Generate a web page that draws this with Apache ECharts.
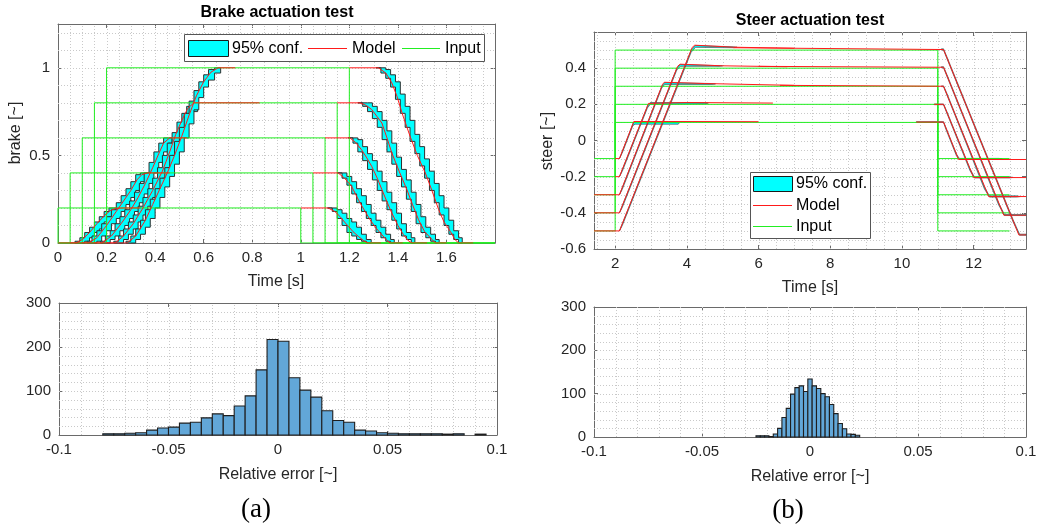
<!DOCTYPE html>
<html><head><meta charset="utf-8">
<script src="https://cdn.jsdelivr.net/npm/echarts@6/dist/echarts.min.js"></script>
<style>html,body{margin:0;padding:0;background:#fff}#c{width:1046px;height:526px}</style>
</head><body><div id="c"></div>
<script>
// ================= DATA =================
// --- Brake actuation test ---
const brakeLevels = [0.2, 0.4, 0.6, 0.8, 1.0];
const brakeOnTimes = [0, 0.05, 0.1, 0.15, 0.2];
const brakeOffTimes = [1.0, 1.05, 1.1, 1.15, 1.2];
const brakeInputEnd = 1.8;
const brakeModelRise = [
  [[0,0],[0.075,0],[0.1,0.02],[0.13,0.06],[0.16,0.11],[0.19,0.155],[0.215,0.185],[0.24,0.198],[0.27,0.2],[0.34,0.2]],
  [[0.05,0],[0.125,0],[0.16,0.03],[0.2,0.1],[0.24,0.18],[0.27,0.24],[0.3,0.3],[0.325,0.36],[0.345,0.39],[0.37,0.4],[0.46,0.4]],
  [[0.1,0],[0.18,0],[0.22,0.04],[0.26,0.11],[0.3,0.19],[0.33,0.26],[0.36,0.34],[0.39,0.43],[0.415,0.51],[0.435,0.57],[0.46,0.6],[0.53,0.6]],
  [[0.15,0],[0.235,0],[0.27,0.04],[0.31,0.11],[0.35,0.2],[0.39,0.3],[0.43,0.41],[0.46,0.52],[0.485,0.62],[0.51,0.7],[0.535,0.77],[0.56,0.8],[0.83,0.8]],
  [[0.2,0],[0.285,0],[0.32,0.04],[0.36,0.13],[0.39,0.22],[0.42,0.31],[0.45,0.4],[0.48,0.5],[0.51,0.61],[0.54,0.73],[0.57,0.84],[0.6,0.92],[0.63,0.975],[0.66,1.0],[0.73,1.0]]
];
const brakeModelFall = [
  [[1.0,0.2],[1.113,0.2],[1.14,0.18],[1.161,0.152],[1.18,0.12],[1.196,0.095],[1.215,0.065],[1.237,0.038],[1.26,0.012],[1.278,0],[1.33,0]],
  [[1.05,0.4],[1.154,0.4],[1.18,0.37],[1.209,0.324],[1.244,0.229],[1.265,0.18],[1.285,0.133],[1.31,0.085],[1.334,0.047],[1.355,0.015],[1.368,0],[1.42,0]],
  [[1.1,0.6],[1.202,0.6],[1.225,0.575],[1.25,0.533],[1.27,0.49],[1.292,0.438],[1.315,0.37],[1.334,0.305],[1.355,0.235],[1.375,0.171],[1.4,0.1],[1.423,0.047],[1.445,0.01],[1.458,0],[1.52,0]],
  [[1.15,0.8],[1.244,0.8],[1.27,0.785],[1.292,0.762],[1.315,0.72],[1.334,0.685],[1.355,0.6],[1.375,0.514],[1.405,0.41],[1.437,0.305],[1.46,0.22],[1.485,0.133],[1.51,0.065],[1.54,0.02],[1.555,0],[1.6,0]],
  [[1.2,1.0],[1.32,1.0],[1.35,0.97],[1.375,0.914],[1.396,0.838],[1.42,0.73],[1.45,0.61],[1.48,0.5],[1.513,0.4],[1.54,0.3],[1.568,0.19],[1.59,0.12],[1.616,0.066],[1.635,0.02],[1.65,0],[1.71,0]]
];
// confidence bands: rows [t, lower, upper]
const brakeBandRise = [
  [[0.07,0,0.01],[0.09,0,0.03],[0.11,0.01,0.06],[0.13,0.03,0.09],[0.15,0.06,0.12],[0.17,0.08,0.15],[0.19,0.12,0.18],[0.21,0.15,0.2],[0.23,0.18,0.2],[0.25,0.19,0.2],[0.265,0.2,0.2]],
  [[0.12,0,0.01],[0.14,0,0.04],[0.16,0.01,0.07],[0.18,0.04,0.11],[0.2,0.07,0.15],[0.22,0.11,0.19],[0.24,0.14,0.23],[0.26,0.18,0.27],[0.28,0.22,0.31],[0.3,0.26,0.35],[0.32,0.3,0.39],[0.34,0.35,0.4],[0.36,0.38,0.4],[0.38,0.4,0.4]],
  [[0.175,0,0.01],[0.195,0,0.04],[0.215,0.02,0.07],[0.235,0.04,0.11],[0.255,0.07,0.15],[0.275,0.1,0.19],[0.295,0.14,0.24],[0.315,0.18,0.29],[0.335,0.23,0.34],[0.355,0.28,0.4],[0.375,0.34,0.46],[0.395,0.4,0.52],[0.415,0.46,0.57],[0.435,0.52,0.6],[0.455,0.57,0.6],[0.47,0.6,0.6]],
  [[0.23,0,0.01],[0.25,0,0.04],[0.27,0.02,0.08],[0.29,0.05,0.12],[0.31,0.08,0.16],[0.33,0.12,0.21],[0.35,0.16,0.26],[0.37,0.21,0.31],[0.39,0.26,0.37],[0.41,0.31,0.43],[0.43,0.37,0.5],[0.45,0.43,0.57],[0.47,0.5,0.63],[0.49,0.57,0.69],[0.51,0.63,0.74],[0.53,0.69,0.78],[0.55,0.75,0.8],[0.575,0.8,0.8]],
  [[0.28,0,0.01],[0.3,0,0.04],[0.32,0.02,0.08],[0.34,0.05,0.13],[0.36,0.09,0.19],[0.38,0.14,0.25],[0.4,0.2,0.31],[0.42,0.26,0.37],[0.44,0.32,0.43],[0.46,0.38,0.5],[0.48,0.45,0.58],[0.5,0.52,0.66],[0.52,0.6,0.74],[0.54,0.68,0.81],[0.56,0.76,0.87],[0.58,0.83,0.92],[0.6,0.89,0.96],[0.62,0.93,0.99],[0.645,0.97,1.0],[0.67,1.0,1.0]]
];
const brakeBandFall = [
  [[1.11,0.2,0.2],[1.13,0.18,0.2],[1.15,0.14,0.19],[1.17,0.1,0.17],[1.19,0.06,0.14],[1.21,0.04,0.12],[1.23,0.02,0.09],[1.25,0.01,0.05],[1.27,0,0.02],[1.29,0,0.005]],
  [[1.15,0.4,0.4],[1.17,0.37,0.4],[1.19,0.33,0.38],[1.21,0.28,0.35],[1.23,0.23,0.31],[1.25,0.18,0.27],[1.27,0.14,0.22],[1.29,0.1,0.17],[1.31,0.06,0.13],[1.33,0.03,0.09],[1.35,0.01,0.05],[1.37,0,0.02],[1.385,0,0.005]],
  [[1.195,0.6,0.6],[1.215,0.57,0.6],[1.235,0.52,0.59],[1.255,0.47,0.55],[1.275,0.42,0.51],[1.295,0.36,0.47],[1.315,0.3,0.41],[1.335,0.24,0.35],[1.355,0.19,0.29],[1.375,0.13,0.23],[1.395,0.08,0.17],[1.415,0.04,0.11],[1.435,0.02,0.06],[1.455,0,0.03],[1.47,0,0.005]],
  [[1.235,0.8,0.8],[1.255,0.78,0.8],[1.275,0.75,0.8],[1.295,0.71,0.78],[1.315,0.66,0.75],[1.335,0.59,0.7],[1.355,0.52,0.64],[1.375,0.45,0.57],[1.395,0.38,0.49],[1.415,0.32,0.42],[1.435,0.25,0.36],[1.455,0.18,0.29],[1.475,0.11,0.22],[1.495,0.06,0.15],[1.515,0.03,0.09],[1.535,0.01,0.05],[1.555,0,0.02],[1.57,0,0.005]],
  [[1.31,1.0,1.0],[1.33,0.97,1.0],[1.35,0.94,0.99],[1.37,0.89,0.96],[1.39,0.82,0.92],[1.41,0.74,0.85],[1.43,0.66,0.78],[1.45,0.58,0.7],[1.47,0.51,0.62],[1.49,0.44,0.55],[1.51,0.37,0.48],[1.53,0.3,0.41],[1.55,0.23,0.34],[1.57,0.16,0.27],[1.59,0.1,0.2],[1.61,0.05,0.13],[1.63,0.02,0.07],[1.65,0,0.03],[1.665,0,0.005]]
];

// --- Steer actuation test ---
const steerLevels = [0.1, 0.2, 0.3, 0.4, 0.5];
const steerInputStart = 1.41;
const steerStepUpTime = 2;
const steerStepDownTime = 11;
const steerInputEnd = 13;
const steerModelRise = [
  [[2.0,-0.1],[2.12,-0.1],[2.52,0.105],[2.56,0.108],[3.5,0.105],[6.0,0.104]],
  [[2.0,-0.2],[2.12,-0.2],[2.93,0.205],[2.98,0.212],[4.0,0.21],[6.4,0.207]],
  [[1.41,-0.3],[2.12,-0.3],[3.32,0.31],[3.37,0.322],[4.5,0.315],[7.0,0.305]],
  [[1.41,-0.4],[2.12,-0.4],[3.74,0.41],[3.81,0.422],[5.0,0.413],[6.8,0.408]],
  [[1.41,-0.5],[2.12,-0.5],[4.15,0.515],[4.22,0.527],[5.3,0.516],[7.0,0.51]]
];
const steerModelFall = [
  [[10.4,0.102],[11.16,0.102],[11.58,-0.105],[13.46,-0.105]],
  [[10.9,0.2],[11.16,0.2],[12.0,-0.205],[13.46,-0.205]],
  [[6.6,0.305],[11.16,0.3],[12.42,-0.31],[13.46,-0.31]],
  [[6.0,0.41],[11.16,0.405],[12.84,-0.413],[13.46,-0.413]],
  [[5.3,0.513],[11.16,0.503],[13.26,-0.522],[13.46,-0.522]]
];
const steerBandRise = [
  [[2.12,-0.1,-0.1],[2.2,-0.068,-0.06],[2.5,0.085,0.095],[2.56,0.09,0.104],[3.76,0.09,0.1],[3.8,0.1,0.1]],
  [[2.12,-0.2,-0.2],[2.2,-0.17,-0.16],[2.9,0.18,0.19],[2.98,0.2,0.21],[4.5,0.203,0.209],[4.6,0.207,0.207]],
  [[2.12,-0.3,-0.3],[2.2,-0.27,-0.26],[3.3,0.29,0.3],[3.38,0.31,0.32],[4.7,0.31,0.315],[4.8,0.313,0.313]],
  [[2.12,-0.4,-0.4],[2.2,-0.37,-0.36],[3.72,0.39,0.4],[3.82,0.41,0.42],[4.9,0.41,0.414],[5.0,0.413,0.413]],
  [[2.12,-0.5,-0.5],[2.2,-0.47,-0.46],[4.12,0.488,0.5],[4.24,0.515,0.525],[5.3,0.513,0.518],[5.4,0.516,0.516]]
];
const steerBandFall = [
  [[10.4,0.1,0.104],[11.16,0.1,0.104],[11.22,0.065,0.075],[11.52,-0.085,-0.075],[11.6,-0.105,-0.099],[12.7,-0.104,-0.099],[12.8,-0.101,-0.101]],
  [[10.9,0.198,0.202],[11.16,0.198,0.202],[11.25,0.152,0.162],[11.9,-0.168,-0.157],[12.02,-0.207,-0.201],[13.0,-0.207,-0.201],[13.1,-0.204,-0.204]],
  [[11.1,0.298,0.302],[11.16,0.298,0.302],[11.25,0.253,0.263],[12.3,-0.268,-0.257],[12.44,-0.313,-0.306],[13.2,-0.313,-0.306],[13.3,-0.31,-0.31]],
  [[11.1,0.402,0.408],[11.16,0.402,0.408],[11.25,0.357,0.367],[12.7,-0.358,-0.347],[12.86,-0.415,-0.409],[13.46,-0.415,-0.409]],
  [[11.1,0.5,0.507],[11.16,0.5,0.507],[11.25,0.455,0.465],[13.1,-0.45,-0.438],[13.28,-0.524,-0.518],[13.46,-0.524,-0.518]]
];

// --- Relative error histograms ---
const brakeHistStart = -0.08;
const brakeHistWidth = 0.005;
const brakeHistCounts = [3,3,4,5,11,16,18,27,29,39,48,44,66,89,148,217,213,130,102,86,55,33,29,11,9,5,4,3,3,3,3,2,3,0,2];
const steerHistStart = -0.025;
const steerHistWidth = 0.002;
const steerHistCounts = [3,3,3,1,7,20,45,66,99,114,118,105,134,118,112,100,93,75,54,31,19,7,6,4];

// --- Tick labels ---
const brakeXTicks = [0,0.2,0.4,0.6,0.8,1,1.2,1.4,1.6];
const brakeYTicks = [0,0.5,1];
const steerXTicks = [2,4,6,8,10,12];
const steerYTicks = [-0.6,-0.4,-0.2,0,0.2,0.4];
const histXTicks = [-0.1,-0.05,0,0.05,0.1];
const histYTicks = [0,100,200,300];

// ================= CHART =================
const FONT = "'Liberation Sans', Arial, Helvetica, sans-serif";
const AX = '#6a6a6a';
const TXT = '#262626';
const GREEN = '#22ee22';
const RED = '#ff1a1a';

const grids = [
  {left:58, top:24, width:437, height:219},
  {left:594, top:32, width:432, height:217},
  {left:59, top:303, width:438, height:132},
  {left:594, top:307, width:432, height:130}
];
const ranges = [
  {x:[0,1.8], y:[0,1.25], xt:brakeXTicks, yt:brakeYTicks, xs:0.05, ys:0.1},
  {x:[1.41,13.46], y:[-0.6,0.6], xt:steerXTicks, yt:steerYTicks, xs:0.5, ys:0.05},
  {x:[-0.1,0.1], y:[0,300], xt:histXTicks, yt:histYTicks, xs:0.01, ys:20},
  {x:[-0.1,0.1], y:[0,300], xt:histXTicks, yt:histYTicks, xs:0.01, ys:20}
];

const fmt = v => String(+(+v).toFixed(4));
const xAxes = [], yAxes = [];
grids.forEach((g, i) => {
  const r = ranges[i];
  const common = {gridIndex:i, type:'value', splitLine:{show:false},
    axisLine:{show:true, onZero:false, lineStyle:{color:AX, width:1}}};
  xAxes.push(Object.assign({}, common, {position:'bottom', min:r.x[0], max:r.x[1],
    axisTick:{show:true, inside:true, length:4, customValues:r.xt, lineStyle:{color:AX}},
    axisLabel:{show:true, customValues:r.xt, formatter:fmt, color:TXT, fontSize:15, fontFamily:FONT, margin:7}}));
  xAxes.push(Object.assign({}, common, {position:'top', min:r.x[0], max:r.x[1],
    axisTick:{show:true, inside:true, length:4, customValues:r.xt, lineStyle:{color:AX}},
    axisLabel:{show:false}}));
  yAxes.push(Object.assign({}, common, {position:'left', min:r.y[0], max:r.y[1],
    axisTick:{show:true, inside:true, length:4, customValues:r.yt, lineStyle:{color:AX}},
    axisLabel:{show:true, customValues:r.yt, formatter:fmt, color:TXT, fontSize:15, fontFamily:FONT, margin:8}}));
  yAxes.push(Object.assign({}, common, {position:'right', min:r.y[0], max:r.y[1],
    axisTick:{show:true, inside:true, length:4, customValues:r.yt, lineStyle:{color:AX}},
    axisLabel:{show:false}}));
});

const series = [];

// dotted grid lines (major + minor), placed through the axis scales
grids.forEach((g, i) => {
  const r = ranges[i];
  series.push({
    type:'custom', xAxisIndex:2*i, yAxisIndex:2*i, silent:true, z:1,
    data:[[r.x[0], r.y[0]]],
    renderItem:(p, api) => {
      const ch = [];
      const eps = 1e-9;
      const k0 = Math.ceil((r.x[0] + eps) / r.xs), k1 = Math.floor((r.x[1] - eps) / r.xs);
      for (let k = k0; k <= k1; k++) {
        const x = k * r.xs;
        const a = api.coord([x, r.y[0]]), b = api.coord([x, r.y[1]]);
        const px = Math.round(a[0]) + 0.5;
        ch.push({type:'line', shape:{x1:px, y1:a[1], x2:px, y2:b[1]},
          style:{stroke:'#c9c9c9', lineWidth:1, lineDash:[1,2]}});
      }
      const m0 = Math.ceil((r.y[0] + eps) / r.ys), m1 = Math.floor((r.y[1] - eps) / r.ys);
      for (let k = m0; k <= m1; k++) {
        const y = k * r.ys;
        const a = api.coord([r.x[0], y]), b = api.coord([r.x[1], y]);
        const py = Math.round(a[1]) + 0.5;
        ch.push({type:'line', shape:{x1:a[0], y1:py, x2:b[0], y2:py},
          style:{stroke:'#c9c9c9', lineWidth:1, lineDash:[1,2]}});
      }
      return {type:'group', children:ch};
    }
  });
});

function bandPoints(rows, stepped, api) {
  const up = [], lo = [];
  for (let i = 0; i < rows.length; i++) {
    const t = rows[i][0], l = rows[i][1], h = rows[i][2];
    up.push([t, h]); lo.push([t, l]);
    if (stepped && i < rows.length - 1) {
      const tn = rows[i + 1][0];
      up.push([tn, h]); lo.push([tn, l]);
    }
  }
  return up.concat(lo.reverse()).map(p => api.coord(p));
}
function bandSeries(bands, axisIdx, stepped, lw, stroke) {
  return {
    type:'custom', name:'95% conf.', xAxisIndex:axisIdx, yAxisIndex:axisIdx, silent:true, z:2,
    data: bands.map(b => [b[0][0], b[0][1]]),
    renderItem:(p, api) => ({
      type:'polygon',
      shape:{points: bandPoints(bands[p.dataIndex], stepped, api)},
      style:{fill:'#00ffff', stroke, lineWidth:lw, lineJoin:'miter'}
    })
  };
}
function lineSeries(name, data, axisIdx, color, z) {
  return {type:'line', name, xAxisIndex:axisIdx, yAxisIndex:axisIdx, data, symbol:'none',
    silent:true, z, lineStyle:{color, width:1}, emphasis:{disabled:true}};
}

// Brake plot
series.push(bandSeries(brakeBandRise.concat(brakeBandFall), 0, true, 1, '#303030'));
brakeLevels.forEach((L, i) => {
  const on = brakeOnTimes[i], off = brakeOffTimes[i];
  series.push(lineSeries('Input', [[0,0],[on,0],[on,L],[off,L],[off,0],[brakeInputEnd,0]], 0, GREEN, 3));
});
brakeModelRise.concat(brakeModelFall).forEach(d => series.push(lineSeries('Model', d, 0, RED, 4)));

// Steer plot
series.push(bandSeries(steerBandRise.concat(steerBandFall), 2, false, 0.6, '#3a3a3a'));
steerLevels.forEach(L => {
  series.push(lineSeries('Input', [[steerInputStart,-L],[steerStepUpTime,-L],[steerStepUpTime,L],
    [steerStepDownTime,L],[steerStepDownTime,-L],[steerInputEnd,-L]], 2, GREEN, 3));
});
steerModelRise.concat(steerModelFall).forEach(d => series.push(lineSeries('Model', d, 2, RED, 4)));

// Histograms
function histSeries(start, width, counts, axisIdx) {
  return {
    type:'custom', xAxisIndex:axisIdx, yAxisIndex:axisIdx, silent:true, z:2,
    data: counts.map((c, i) => [start + i * width, c]),
    renderItem:(p, api) => {
      const x0 = api.value(0), c = api.value(1);
      if (!c) return null;
      const a = api.coord([x0, 0]), b = api.coord([x0 + width, c]);
      return {type:'rect', shape:{x:a[0], y:b[1], width:b[0]-a[0], height:a[1]-b[1]},
        style:{fill:'#62a7d8', stroke:'#1e1e1e', lineWidth:1.1}};
    }
  };
}
series.push(histSeries(brakeHistStart, brakeHistWidth, brakeHistCounts, 4));
series.push(histSeries(steerHistStart, steerHistWidth, steerHistCounts, 6));

// Texts & legends
function txt(x, y, s, font, fill, extra) {
  return Object.assign({type:'text', x, y, z:100, silent:true,
    style:{text:s, fill:fill || TXT, font, textAlign:'center', textVerticalAlign:'middle', align:'center', verticalAlign:'middle'}}, extra || {});
}
function ltxt(x, y, s) {
  return {type:'text', x, y, z:101, silent:true,
    style:{text:s, fill:'#000', font:'16px ' + FONT, textAlign:'left', textVerticalAlign:'middle', align:'left', verticalAlign:'middle'}};
}
const F16 = '16px ' + FONT;
const SERIF = "27px 'Liberation Serif', 'DejaVu Serif', serif";
const graphic = [
  txt(277, 13, 'Brake actuation test', 'bold 16px ' + FONT, '#000'),
  txt(810, 21, 'Steer actuation test', 'bold 16px ' + FONT, '#000'),
  txt(276, 282, 'Time [s]', F16),
  txt(810, 288, 'Time [s]', F16),
  txt(16, 133, 'brake [~]', F16, TXT, {rotation: Math.PI / 2}),
  txt(548, 141, 'steer [~]', F16, TXT, {rotation: Math.PI / 2}),
  txt(278, 475, 'Relative error [~]', F16),
  txt(810, 477, 'Relative error [~]', F16),
  txt(256, 510, '(a)', SERIF, '#000'),
  txt(788, 511, '(b)', SERIF, '#000'),
  // brake legend
  {type:'rect', z:100, silent:true, shape:{x:184.5, y:34.5, width:300, height:27}, style:{fill:'#fff', stroke:'#555', lineWidth:1}},
  {type:'rect', z:101, silent:true, shape:{x:188.5, y:40.5, width:40, height:16}, style:{fill:'#00ffff', stroke:'#1a1a1a', lineWidth:1}},
  ltxt(232, 48.5, '95% conf.'),
  {type:'line', z:101, silent:true, shape:{x1:308, y1:48.5, x2:347, y2:48.5}, style:{stroke:RED, lineWidth:1}},
  ltxt(352, 48.5, 'Model'),
  {type:'line', z:101, silent:true, shape:{x1:402, y1:48.5, x2:440, y2:48.5}, style:{stroke:GREEN, lineWidth:1}},
  ltxt(445, 48.5, 'Input'),
  // steer legend
  {type:'rect', z:100, silent:true, shape:{x:750.5, y:172.5, width:120, height:66}, style:{fill:'#fff', stroke:'#555', lineWidth:1}},
  {type:'rect', z:101, silent:true, shape:{x:753.5, y:176.5, width:39, height:15}, style:{fill:'#00ffff', stroke:'#1a1a1a', lineWidth:1}},
  ltxt(796, 184, '95% conf.'),
  {type:'line', z:101, silent:true, shape:{x1:753, y1:205.5, x2:792, y2:205.5}, style:{stroke:RED, lineWidth:1}},
  ltxt(796, 206, 'Model'),
  {type:'line', z:101, silent:true, shape:{x1:753, y1:226.5, x2:792, y2:226.5}, style:{stroke:GREEN, lineWidth:1}},
  ltxt(796, 227, 'Input')
];

const chart = echarts.init(document.getElementById('c'), null, {renderer:'canvas'});
chart.setOption({
  animation:false,
  backgroundColor:'#ffffff',
  grid: grids.map(g => Object.assign({containLabel:false}, g)),
  xAxis: xAxes,
  yAxis: yAxes,
  series,
  graphic
});
</script>
</body></html>
